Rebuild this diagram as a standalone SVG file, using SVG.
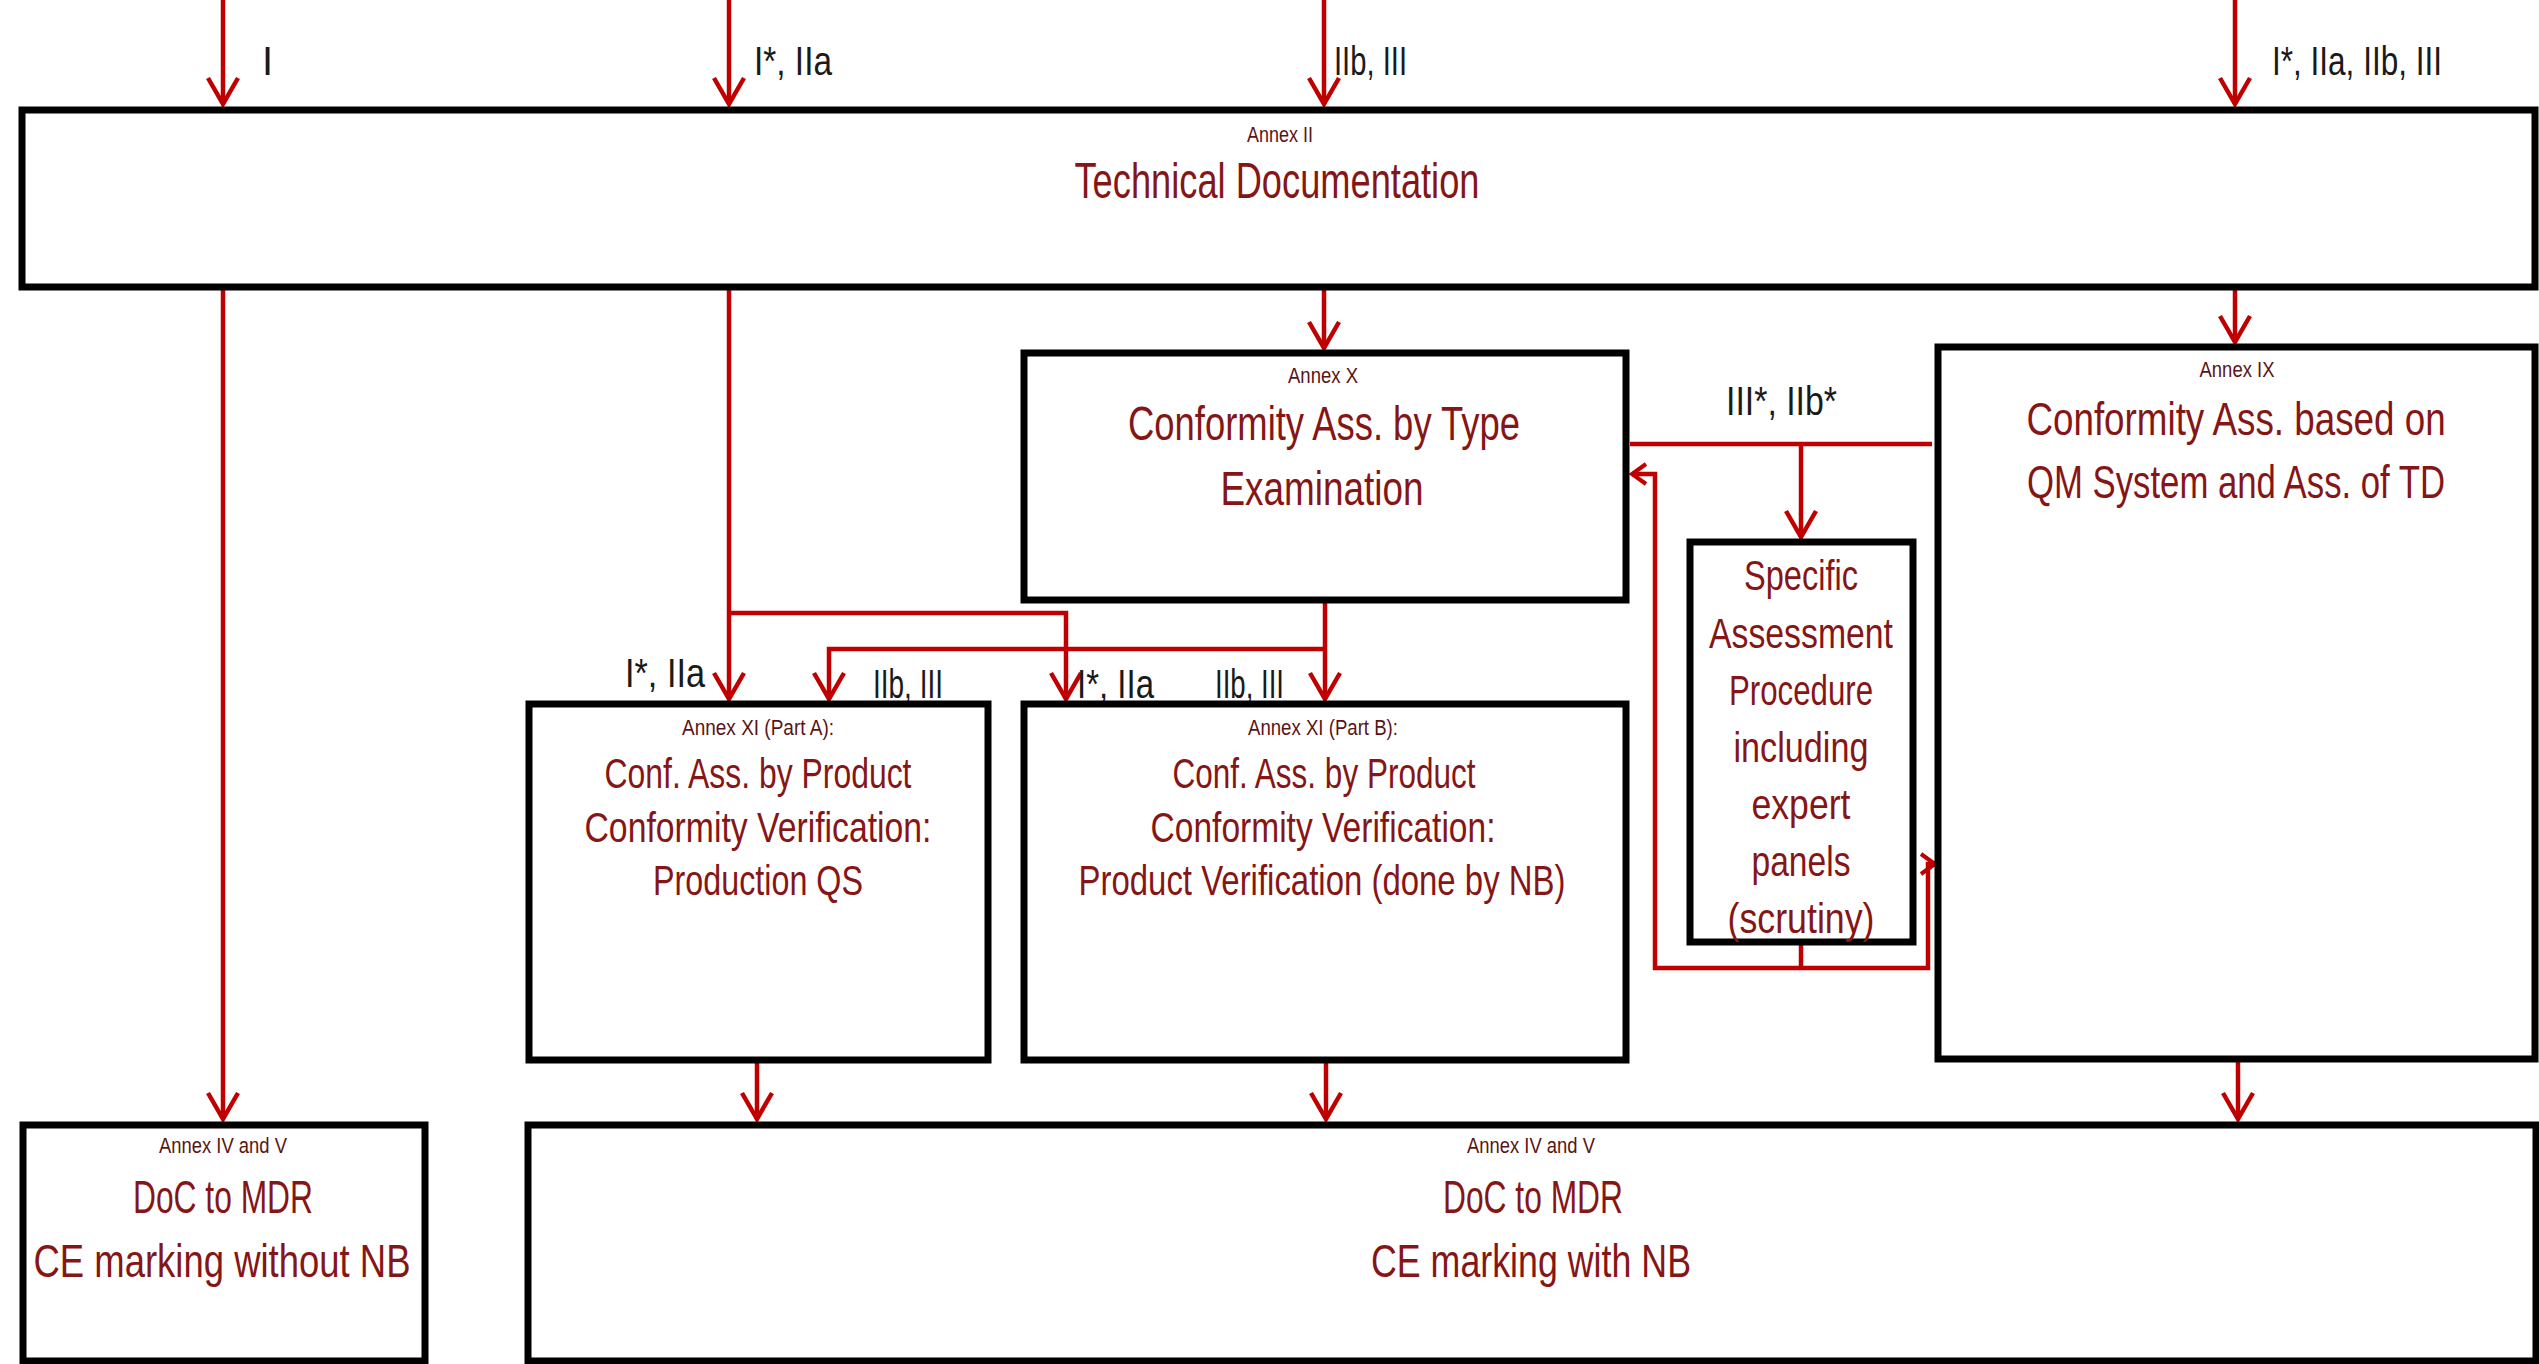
<svg xmlns="http://www.w3.org/2000/svg" width="2539" height="1364" viewBox="0 0 2539 1364">
<style>
.box{fill:#fff;stroke:#000;stroke-width:7}
.con{fill:none;stroke:#c00000;stroke-width:4.5}
.t{font-family:"Liberation Sans Narrow","Liberation Sans",Arial,sans-serif;fill:#861616;text-anchor:middle}
.ann{font-size:22px;fill:#5a1414}
.lbl{font-family:"Liberation Sans Narrow","Liberation Sans",Arial,sans-serif;fill:#1a1a1a;font-size:40px}
</style>
<defs>
<marker id="ah" markerUnits="userSpaceOnUse" markerWidth="40" markerHeight="40" viewBox="-32 -20 36 40" refX="0" refY="0" orient="auto">
<path d="M-26,-15 L0,0 L-26,15" fill="none" stroke="#c00000" stroke-width="4.5"/>
</marker>
<marker id="ahs" markerUnits="userSpaceOnUse" markerWidth="26" markerHeight="26" viewBox="-18 -13 22 26" refX="0" refY="0" orient="auto">
<path d="M-14,-10 L0,0 L-14,10" fill="none" stroke="#c00000" stroke-width="4"/>
</marker>
</defs>
<rect width="2539" height="1364" fill="#fff"/>

<g id="connectors">
<path class="con" d="M223,0 V104" marker-end="url(#ah)"/>
<path class="con" d="M729,0 V104" marker-end="url(#ah)"/>
<path class="con" d="M1324,0 V104" marker-end="url(#ah)"/>
<path class="con" d="M2235,0 V104" marker-end="url(#ah)"/>
<path class="con" d="M223,290 V1119" marker-end="url(#ah)"/>
<path class="con" d="M729,290 V699" marker-end="url(#ah)"/>
<path class="con" d="M729,613 H1066 V699" marker-end="url(#ah)"/>
<path class="con" d="M1324,290 V348" marker-end="url(#ah)"/>
<path class="con" d="M1325,603 V699" marker-end="url(#ah)"/>
<path class="con" d="M1325,649 H829 V699" marker-end="url(#ah)"/>
<path class="con" d="M2235,290 V342" marker-end="url(#ah)"/>
<path class="con" d="M1932,444 H1630"/>
<path class="con" d="M1801,444 V537" marker-end="url(#ah)"/>
<path class="con" d="M1801,945 V968"/>
<path class="con" d="M1801,968 H1655 V474 H1632" marker-end="url(#ahs)"/>
<path class="con" d="M1801,968 H1928 V864 H1935" marker-end="url(#ahs)"/>
<path class="con" d="M757,1063 V1119" marker-end="url(#ah)"/>
<path class="con" d="M1326,1063 V1119" marker-end="url(#ah)"/>
<path class="con" d="M2238,1062 V1119" marker-end="url(#ah)"/>
</g>

<g id="labels">
<text class="lbl" x="262" y="75">I</text>
<text class="lbl" x="754" y="75" textLength="78" lengthAdjust="spacingAndGlyphs">I*, IIa</text>
<text class="lbl" x="1334" y="75" textLength="73" lengthAdjust="spacingAndGlyphs">IIb, III</text>
<text class="lbl" x="2272" y="75" textLength="170" lengthAdjust="spacingAndGlyphs">I*, IIa, IIb, III</text>
<text class="lbl" x="1726" y="415" textLength="111" lengthAdjust="spacingAndGlyphs">III*, IIb*</text>
<text class="lbl" x="625" y="687" textLength="80" lengthAdjust="spacingAndGlyphs">I*, IIa</text>
<text class="lbl" x="873" y="698" textLength="70" lengthAdjust="spacingAndGlyphs">IIb, III</text>
<text class="lbl" x="1077" y="698" textLength="77" lengthAdjust="spacingAndGlyphs">I*, IIa</text>
<text class="lbl" x="1215" y="698" textLength="69" lengthAdjust="spacingAndGlyphs">IIb, III</text>
</g>

<g id="node-technical-documentation">
<rect class="box" x="22" y="110" width="2513" height="177"/>
<text class="t ann" x="1280" y="142" textLength="66" lengthAdjust="spacingAndGlyphs">Annex II</text>
<text class="t" x="1277" y="198" font-size="50" textLength="405" lengthAdjust="spacingAndGlyphs">Technical Documentation</text>
</g>

<g id="node-annex-x">
<rect class="box" x="1024" y="353" width="602" height="247"/>
<text class="t ann" x="1323" y="383" textLength="70" lengthAdjust="spacingAndGlyphs">Annex X</text>
<text class="t" x="1324" y="440" font-size="48" textLength="392" lengthAdjust="spacingAndGlyphs">Conformity Ass. by Type</text>
<text class="t" x="1322" y="505" font-size="48" textLength="203" lengthAdjust="spacingAndGlyphs">Examination</text>
</g>

<g id="node-annex-ix">
<rect class="box" x="1938" y="347" width="597" height="712"/>
<text class="t ann" x="2237" y="377" textLength="75" lengthAdjust="spacingAndGlyphs">Annex IX</text>
<text class="t" transform="translate(2236,435) scale(0.8,1)" x="0" y="0" font-size="46">Conformity Ass. based on</text>
<text class="t" transform="translate(2236,498) scale(0.755,1)" x="0" y="0" font-size="46">QM System and Ass. of TD</text>
</g>

<g id="node-specific-assessment">
<rect class="box" x="1690" y="542" width="223" height="400"/>
<text class="t" x="1801" y="590" font-size="42" textLength="114" lengthAdjust="spacingAndGlyphs">Specific</text>
<text class="t" x="1801" y="648" font-size="42" textLength="184" lengthAdjust="spacingAndGlyphs">Assessment</text>
<text class="t" x="1801" y="705" font-size="42" textLength="144" lengthAdjust="spacingAndGlyphs">Procedure</text>
<text class="t" x="1801" y="762" font-size="42" textLength="135" lengthAdjust="spacingAndGlyphs">including</text>
<text class="t" x="1801" y="819" font-size="42" textLength="99" lengthAdjust="spacingAndGlyphs">expert</text>
<text class="t" x="1801" y="876" font-size="42" textLength="99" lengthAdjust="spacingAndGlyphs">panels</text>
<text class="t" x="1801" y="933" font-size="42" textLength="147" lengthAdjust="spacingAndGlyphs">(scrutiny)</text>
</g>

<g id="node-annex-xi-a">
<rect class="box" x="529" y="704" width="459" height="356"/>
<text class="t ann" x="758" y="735" textLength="152" lengthAdjust="spacingAndGlyphs">Annex XI (Part A):</text>
<text class="t" x="758" y="788" font-size="42" textLength="307" lengthAdjust="spacingAndGlyphs">Conf. Ass. by Product</text>
<text class="t" x="758" y="842" font-size="42" textLength="347" lengthAdjust="spacingAndGlyphs">Conformity Verification:</text>
<text class="t" x="758" y="895" font-size="42" textLength="210" lengthAdjust="spacingAndGlyphs">Production QS</text>
</g>

<g id="node-annex-xi-b">
<rect class="box" x="1024" y="704" width="602" height="356"/>
<text class="t ann" x="1323" y="735" textLength="150" lengthAdjust="spacingAndGlyphs">Annex XI (Part B):</text>
<text class="t" x="1324" y="788" font-size="42" textLength="303" lengthAdjust="spacingAndGlyphs">Conf. Ass. by Product</text>
<text class="t" x="1323" y="842" font-size="42" textLength="345" lengthAdjust="spacingAndGlyphs">Conformity Verification:</text>
<text class="t" x="1322" y="895" font-size="42" textLength="487" lengthAdjust="spacingAndGlyphs">Product Verification (done by NB)</text>
</g>

<g id="node-doc-without-nb">
<rect class="box" x="23" y="1125" width="402" height="236"/>
<text class="t ann" x="223" y="1153" textLength="128" lengthAdjust="spacingAndGlyphs">Annex IV and V</text>
<text class="t" x="223" y="1213" font-size="46" textLength="180" lengthAdjust="spacingAndGlyphs">DoC to MDR</text>
<text class="t" x="222" y="1277" font-size="46" textLength="377" lengthAdjust="spacingAndGlyphs">CE marking without NB</text>
</g>

<g id="node-doc-with-nb">
<rect class="box" x="528" y="1125" width="2008" height="236"/>
<text class="t ann" x="1531" y="1153" textLength="128" lengthAdjust="spacingAndGlyphs">Annex IV and V</text>
<text class="t" x="1533" y="1213" font-size="46" textLength="180" lengthAdjust="spacingAndGlyphs">DoC to MDR</text>
<text class="t" x="1531" y="1277" font-size="46" textLength="320" lengthAdjust="spacingAndGlyphs">CE marking with NB</text>
</g>
</svg>
